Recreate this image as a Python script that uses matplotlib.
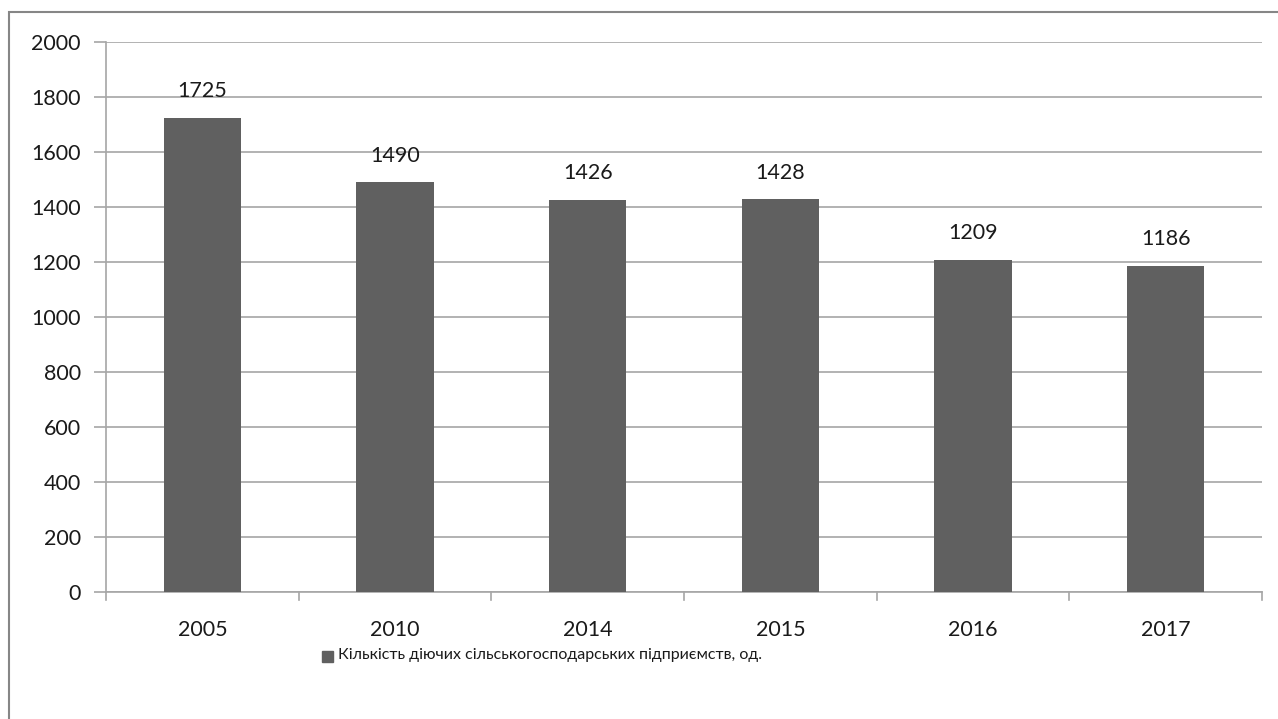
import matplotlib.pyplot as plt
from matplotlib.patches import Rectangle
import numpy as np

plt.rcParams['font.family'] = ['Lato', 'DejaVu Sans']

years = ["2005", "2010", "2014", "2015", "2016", "2017"]
values = [1725, 1490, 1426, 1428, 1209, 1186]
y_ticks = [0, 200, 400, 600, 800, 1000, 1200, 1400, 1600, 1800, 2000]
legend_label = "Кількість діючих сільськогосподарських підприємств, од."

W, H = 1278, 719
fig = plt.figure(figsize=(W / 100, H / 100), dpi=100)

# рамка вокруг всей диаграммы (как в Excel)
fig.patches.append(Rectangle((9 / W, -0.1), 1.2, (H - 12) / H + 0.1,
                             transform=fig.transFigure, fill=False,
                             edgecolor="#868686", linewidth=1.5))

ax = fig.add_axes([106 / W, 1 - 592 / H, (1262 - 106) / W, (592 - 42) / H])

x = np.arange(len(years))
bars = ax.bar(x, values, width=0.4, color="#606060", zorder=3)

ax.set_xlim(-0.5, len(years) - 0.5)
ax.set_ylim(0, 2000)
ax.set_yticks(y_ticks)
ax.set_yticklabels([str(v) for v in y_ticks], fontsize=15.5, color="#1a1a1a")
ax.yaxis.grid(True, color="#a6a6a6", linewidth=1.2, zorder=0)
ax.tick_params(axis="y", length=9, color="#a6a6a6", width=1.2, pad=9)

# подписи категорий без меток, метки — на границах категорий
ax.set_xticks(x)
ax.set_xticklabels(years, fontsize=15.5, color="#1a1a1a")
ax.tick_params(axis="x", length=0, pad=20)
for b in np.arange(-0.5, len(years), 1.0):
    ax.plot([b, b], [0, -0.015], transform=ax.get_xaxis_transform(),
            color="#a6a6a6", linewidth=1.2, clip_on=False)

for s in ["top", "right"]:
    ax.spines[s].set_visible(False)
for s in ["left", "bottom"]:
    ax.spines[s].set_color("#a6a6a6")
    ax.spines[s].set_linewidth(1.2)

for xi, v in zip(x, values):
    ax.text(xi, v + 60, str(v), ha="center", va="bottom", fontsize=15.5, color="#1a1a1a")

# легенда
fig.patches.append(Rectangle((322 / W, 1 - 662 / H), 11 / W, 11 / H,
                             transform=fig.transFigure, color="#606060"))
fig.text(338 / W, 1 - 655 / H, legend_label, fontsize=11.5, color="#1a1a1a",
         va="center", ha="left",
         family=["Liberation Sans Narrow", "Lato", "DejaVu Sans"])

fig.savefig("out.png", dpi=100)
